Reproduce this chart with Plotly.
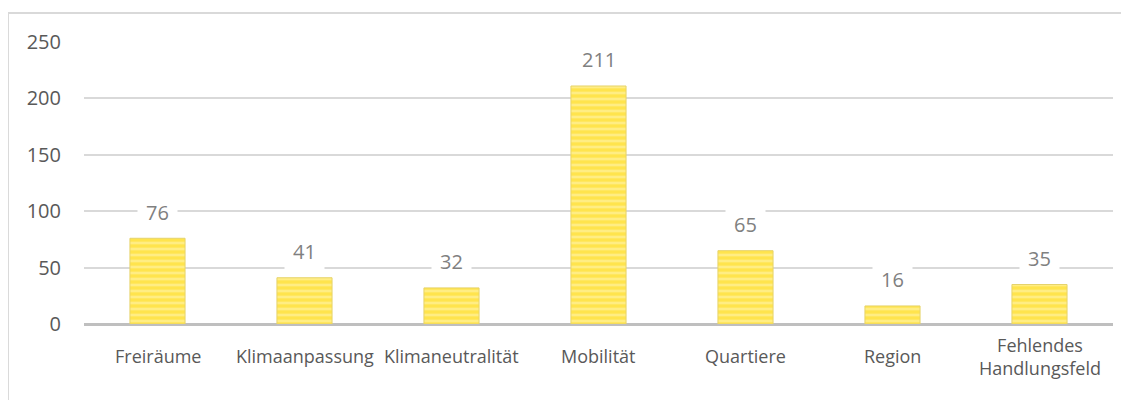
import plotly.graph_objects as go

categories = ["Freiräume", "Klimaanpassung", "Klimaneutralität", "Mobilität",
              "Quartiere", "Region", "Fehlendes<br>Handlungsfeld"]
values = [76, 41, 32, 211, 65, 16, 35]
y_ticks = [0, 50, 100, 150, 200, 250]

FONT = "Open Sans"
fig = go.Figure()
fig.add_trace(go.Bar(
    x=list(range(len(categories))), y=values, width=0.375,
    marker=dict(color="#FFE44D", line=dict(color="#E6D36A", width=1),
                pattern=dict(shape="-", fgcolor="#FFF6BC", size=6, solidity=0.45)),
    hoverinfo="skip",
))

for i, (c, v) in enumerate(zip(categories, values)):
    fig.add_annotation(x=i, y=v, xref="x", yref="y", text=str(v), showarrow=False,
                       yanchor="middle", yshift=26, bgcolor="white", borderpad=8,
                       font=dict(family=FONT, size=20, color="#808080"))
    fig.add_annotation(x=i, y=0, xref="x", yref="y", text=c, showarrow=False,
                       yanchor="middle", yshift=-32,
                       font=dict(family=FONT, size=18, color="#595959"))

fig.add_shape(type="rect", xref="paper", yref="paper",
              x0=-0.0739, x1=1.2, y0=-0.5, y1=1.1028,
              line=dict(color="#D9D9D9", width=2), fillcolor="rgba(0,0,0,0)", layer="below")

fig.update_layout(
    width=1129, height=400,
    margin=dict(l=76, r=24, t=34, b=84),
    paper_bgcolor="white", plot_bgcolor="white",
    showlegend=False,
    xaxis=dict(range=[-0.5, len(categories) - 0.5], showticklabels=False,
               showgrid=False, zeroline=False, showline=False, fixedrange=True),
    yaxis=dict(range=[0, 250], tickvals=y_ticks, showgrid=True, gridcolor="#D9D9D9",
               gridwidth=1.5, zeroline=True, zerolinecolor="#BFBFBF", zerolinewidth=3,
               showline=False, ticks="", ticklabelstandoff=22,
               tickfont=dict(family=FONT, size=20, color="#595959")),
)
fig.write_html("out.html")
